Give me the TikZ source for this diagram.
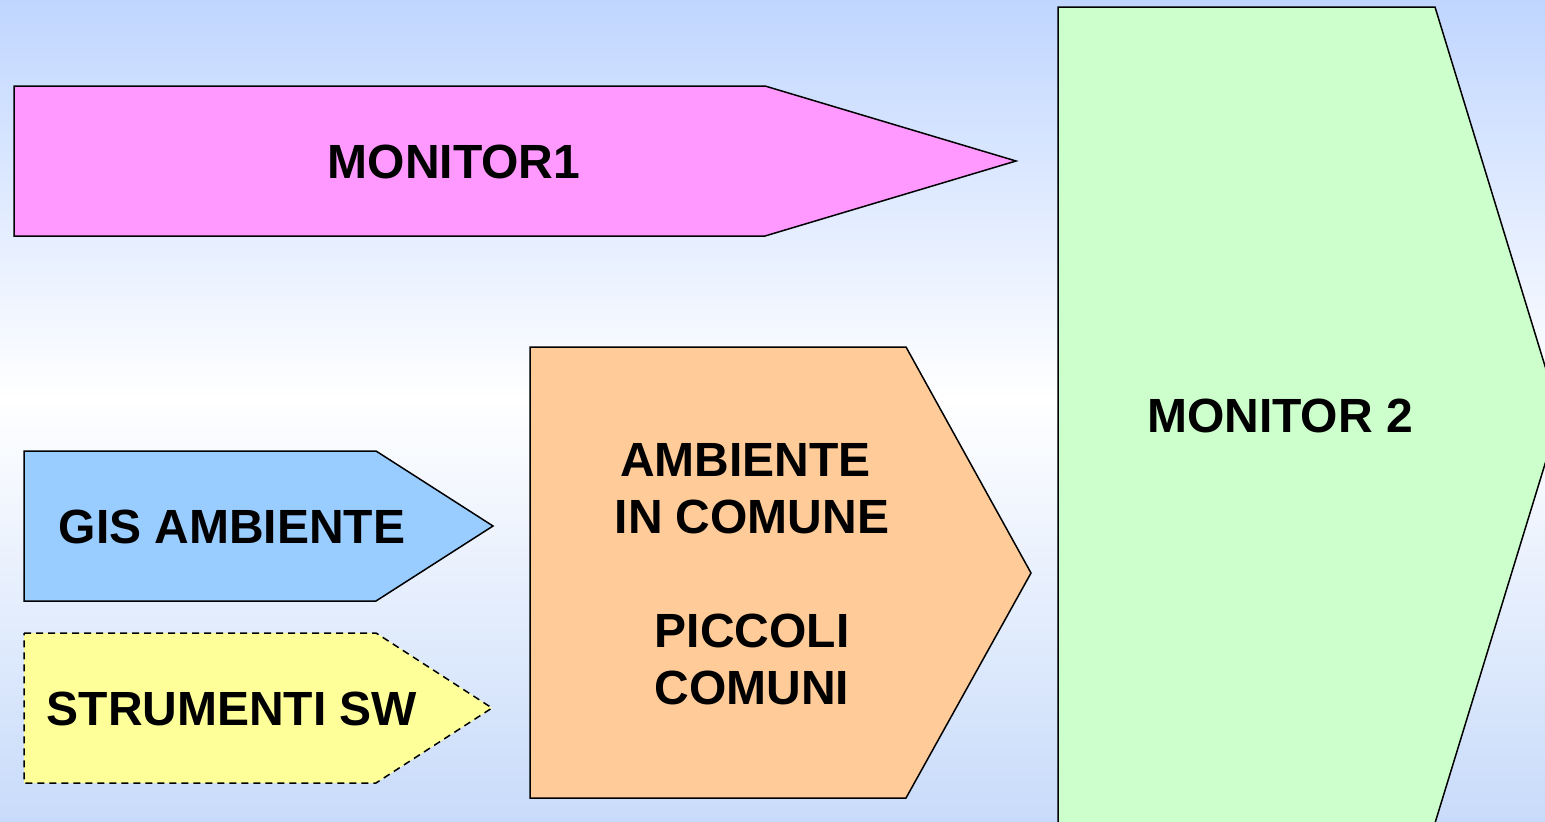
\documentclass[tikz,border=0pt]{standalone}
\usepackage{fontspec}
\setmainfont{Liberation Sans}
\begin{document}
\begin{tikzpicture}[x=1pt,y=-1pt,
  shapeline/.style={draw=black,line width=1.5pt,line join=miter},
  lbl/.style={font=\fontsize{48}{57}\selectfont\bfseries,align=center,inner sep=0pt,text=black}]
\definecolor{bgblue}{HTML}{C0D6FF}
\definecolor{bgblue2}{HTML}{C8DBFA}
\definecolor{pinkf}{HTML}{FF99FF}
\definecolor{greenf}{HTML}{CCFFCC}
\definecolor{orangef}{HTML}{FFCC99}
\definecolor{bluef}{HTML}{99CCFF}
\definecolor{yellowf}{HTML}{FFFF99}
\useasboundingbox (0,0) rectangle (1545,822);
\clip (0,0) rectangle (1545,822);
% background
\shade[top color=bgblue,bottom color=white] (0,0) rectangle (1545,400);
\shade[top color=white,bottom color=bgblue2] (0,399) rectangle (1545,822);
% MONITOR1
\filldraw[shapeline,fill=pinkf] (14,86) -- (765,86) -- (1016,161) -- (765,236) -- (14,236) -- cycle;
\node[lbl] (m1) at (454,162) {MONITOR1};
% MONITOR 2
\filldraw[shapeline,fill=greenf] (1058,7) -- (1435,7) -- (1560,415) -- (1435,823) -- (1058,823) -- cycle;
\node[lbl] (m2) at (1280,416) {MONITOR 2};
% Ambiente in comune
\filldraw[shapeline,fill=orangef] (530,347) -- (906,347) -- (1031,573) -- (906,798) -- (530,798) -- cycle;
\node[lbl] (aic) at (752,574) {AMBIENTE\kern13pt\\IN COMUNE\\[57pt]PICCOLI\\COMUNI};
% GIS
\filldraw[shapeline,fill=bluef] (24,451) -- (376,451) -- (493,526) -- (376,601) -- (24,601) -- cycle;
\node[lbl] (gis) at (232,527) {GIS AMBIENTE};
% Strumenti
\filldraw[shapeline,fill=yellowf,dash pattern=on 7pt off 5pt] (24,633) -- (376,633) -- (492,708) -- (376,783) -- (24,783) -- cycle;
\node[lbl] (sw) at (232,709) {STRUMENTI SW};
\end{tikzpicture}
\end{document}
